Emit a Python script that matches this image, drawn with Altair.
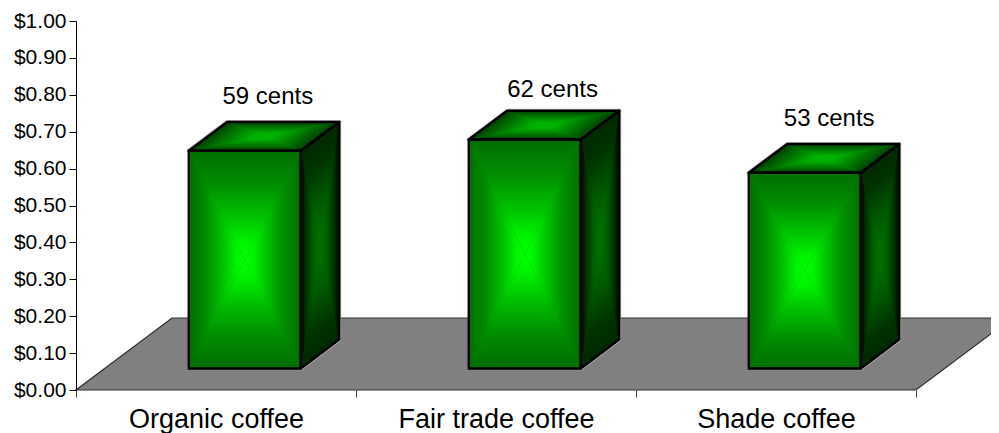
import altair as alt
import pandas as pd

categories = ["Organic coffee", "Fair trade coffee", "Shade coffee"]
prices = [0.59, 0.62, 0.53]
labels = ["59 cents", "62 cents", "53 cents"]
y_ticks = [0.0, 0.1, 0.2, 0.3, 0.4, 0.5, 0.6, 0.7, 0.8, 0.9, 1.0]

FONT = "Liberation Sans"
DX, DY = 96 / 280, 72 / 369          # floor depth in axis units
NEAR, FAR = 0.3, 0.7                 # bar's depth slice
BAR_W = 0.4
LABEL_NUDGE_X = [0.0, 0.017, 0.005]
LABEL_DY = [-25, -21, -25]
xs = alt.Scale(domain=[0, 915 / 280], nice=False, zero=False)
ys = alt.Scale(domain=[0, 1], nice=False, zero=False)

FRONT_SIDE = [(0, "#006e00"), (0.3, "#008c00"), (0.6, "#00c000"), (0.85, "#00f400"), (1, "#00ff00")]
FRONT_END = FRONT_SIDE
SIDE_SIDE = [(0, "#000800"), (0.25, "#003000"), (0.6, "#005a00"), (1, "#007800")]
SIDE_END = [(0, "#002800"), (0.25, "#003400"), (0.6, "#005a00"), (1, "#007800")]
TOP_SIDE = [(0, "#004000"), (0.5, "#008800"), (0.8, "#00b000"), (1, "#00b800")]
TOP_END = TOP_SIDE

xaxis = alt.Axis(
    values=[i / 2 for i in range(7)], title=None, domain=False, grid=False,
    labelExpr="{" + ",".join(f"'{i + 0.5}':'{c}'" for i, c in enumerate(categories)) + "}[''+datum.value]||''",
    labelFont=FONT, labelFontSize=27, labelColor="black", labelPadding=9, labelLimit=400,
    labelOverlap=False, labelBound=False, labelFlush=False, labelAngle=0,
    tickColor="#404040", tickSize=7, tickWidth=1,
    tickOpacity={"condition": {"test": "datum.value % 1 == 0", "value": 1}, "value": 0},
    zindex=1)
yaxis = alt.Axis(
    values=y_ticks, format="$.2f", title=None, grid=False, domainColor="black",
    tickColor="black", tickSize=7, labelFont=FONT, labelFontSize=21, labelColor="black",
    labelPadding=3, labelOverlap=False, labelBound=False, labelFlush=False, zindex=1)
X = alt.X("x:Q", scale=xs, axis=xaxis)
Y = alt.Y("y:Q", scale=ys, axis=yaxis, stack=None)


def area(rows, **kw):
    df = pd.DataFrame(rows, columns=["x", "y", "y2"])
    return alt.Chart(df).mark_area(orient="vertical", **kw).encode(x=X, y=Y, y2=alt.Y2("y2:Q"))


def poly_rows(pts):
    """Envelope (x, lower, upper) of a convex polygon given its corners."""
    xvals = sorted({p[0] for p in pts})
    rows = []
    n = len(pts)
    for x in xvals:
        hits = []
        for i in range(n):
            a, b = pts[i], pts[(i + 1) % n]
            lo, hi = min(a[0], b[0]), max(a[0], b[0])
            if lo - 1e-9 <= x <= hi + 1e-9:
                if abs(a[0] - b[0]) < 1e-9:
                    hits += [a[1], b[1]]
                else:
                    hits.append(a[1] + (b[1] - a[1]) * (x - a[0]) / (b[0] - a[0]))
        rows.append((x, min(hits), max(hits)))
    return rows


def gradient_tri(e1, e2, c, stops):
    pts = [e1, e2, c]
    x0, x1 = min(p[0] for p in pts), max(p[0] for p in pts)
    y0, y1 = min(p[1] for p in pts), max(p[1] for p in pts)
    u = lambda p: ((p[0] - x0) / (x1 - x0), (y1 - p[1]) / (y1 - y0))
    a, b, m = u(e1), u(e2), u(c)
    ex, ey = b[0] - a[0], b[1] - a[1]
    ln = (ex * ex + ey * ey) ** 0.5
    nx, ny = -ey / ln, ex / ln
    d = (m[0] - a[0]) * nx + (m[1] - a[1]) * ny
    grad = {
        "gradient": "linear",
        "x1": a[0], "y1": a[1], "x2": a[0] + d * nx, "y2": a[1] + d * ny,
        "stops": [{"offset": o, "color": col} for o, col in stops],
    }
    return area(poly_rows(pts), fill=grad)


def face(corners, end_stops, side_stops):
    cx = sum(p[0] for p in corners) / 4
    cy = sum(p[1] for p in corners) / 4
    out = [area(poly_rows(corners), fill=end_stops[1][1])]
    for i in range(4):
        stops = end_stops if i % 2 == 0 else side_stops
        out.append(gradient_tri(corners[i], corners[(i + 1) % 4], (cx, cy), stops))
    return out


layers = [
    area(poly_rows([(0, 0), (3, 0), (3 + DX, DY), (DX, DY)]),
         fill="#808080", stroke="#303030", strokeWidth=1.2)
]

text_layers = []
for i, v in enumerate(prices):
    base = NEAR * DY
    xl = i + 0.5 - BAR_W / 2 + NEAR * DX
    xr = xl + BAR_W
    dx, dy = (FAR - NEAR) * DX, (FAR - NEAR) * DY
    t = base + v
    front = [(xl, base), (xr, base), (xr, t), (xl, t)]
    side = [(xr, base), (xr + dx, base + dy), (xr + dx, t + dy), (xr, t)]
    top = [(xl, t), (xr, t), (xr + dx, t + dy), (xl + dx, t + dy)]
    for corners in (side, top):
        layers.append(area(poly_rows(corners), fillOpacity=0, fill="black",
                           stroke="#b8b8b8", strokeWidth=4, strokeJoin="round"))
    layers += face(front, FRONT_END, FRONT_SIDE) + face(side, SIDE_END, SIDE_SIDE) + face(top, TOP_END, TOP_SIDE)
    for corners in (side, top, front):
        layers.append(area(poly_rows(corners), fillOpacity=0, fill="black",
                           stroke="black", strokeWidth=2.5, strokeJoin="round"))
    row = {"x": i + 0.685 + LABEL_NUDGE_X[i], "y": t + dy, "label": labels[i]}
    text_layers.append(
        alt.Chart(pd.DataFrame([row])).mark_text(
            font=FONT, fontSize=24, color="black", baseline="middle", align="center", dy=LABEL_DY[i]
        ).encode(x=X, y=Y, text="label:N"))
layers += text_layers

chart = alt.layer(*layers).properties(
    width=915, height=369,
    autosize=alt.AutoSizeParams(type="none"),
    padding={"left": 68, "top": 13, "right": 0, "bottom": 43},
).configure_view(stroke=None)

chart.save("out.html", embed_options={"renderer": "svg", "actions": False})
